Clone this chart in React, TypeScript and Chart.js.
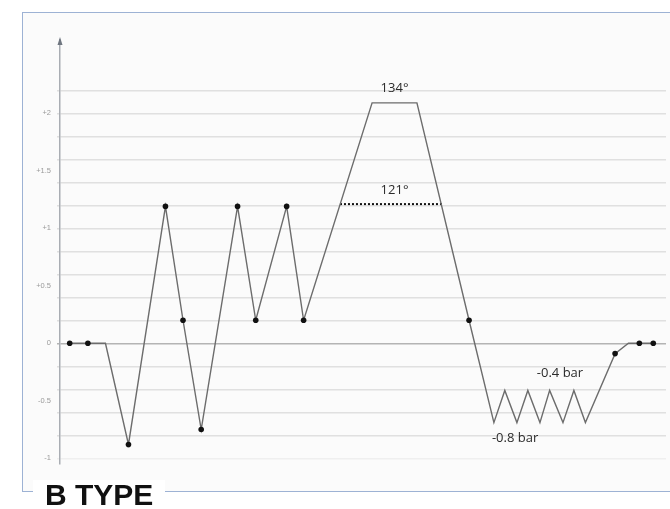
import React, { useEffect, useRef } from 'react';
import { Chart, registerables } from 'chart.js';

Chart.register(...registerables);

// time axis (arbitrary units, 0..100)
const timeSteps = [1.6, 4.6, 7.5, 11.3, 17.4, 20.3, 23.3, 29.3, 32.3, 37.4, 40.2, 51.5, 58.9, 67.5,
  71.6, 73.4, 75.4, 77.2, 79.2, 80.8, 83.0, 84.8, 86.7, 91.6, 93.8, 95.6, 97.9];
// pressure values
const pressureValues = [0, 0, 0, -0.88, 1.19, 0.2, -0.75, 1.19, 0.2, 1.19, 0.2, 2.09, 2.09, 0.2,
  -0.69, -0.41, -0.69, -0.41, -0.69, -0.41, -0.69, -0.41, -0.69, -0.09, 0, 0, 0];
// which points have a dot marker
const markedPoints = [true, true, false, true, true, true, true, true, true, true, true, false, false, true,
  false, false, false, false, false, false, false, false, false, true, false, true, true];

// dotted threshold line (121°)
const thresholdValue = 1.21;
const thresholdStart = 46.2;
const thresholdEnd = 63.1;

// annotation labels
const annotationTexts = ['134°', '121°', '-0.4 bar', '-0.8 bar'];
const annotationX = [55.2, 55.2, 82.5, 75.1];
const annotationY = [2.22, 1.33, -0.26, -0.83];

// axis
const gridValues = [-1, -0.8, -0.6, -0.4, -0.2, 0, 0.2, 0.4, 0.6, 0.8, 1, 1.2, 1.4, 1.6, 1.8, 2, 2.2];
const labelValues = [-1, -0.5, 0, 0.5, 1, 1.5, 2];
const labelTexts = ['-1', '-0.5', '0', '+0.5', '+1', '+1.5', '+2'];

const round1 = (v: number) => Math.round(v * 10) / 10;

const overlayPlugin = {
  id: 'overlay',
  afterDatasetsDraw(chart: any) {
    const { ctx, scales, chartArea } = chart;
    const x = scales.x;
    const y = scales.y;
    ctx.save();
    ctx.font = '13px "Open Sans"';
    ctx.fillStyle = '#2b2b2b';
    ctx.textAlign = 'center';
    ctx.textBaseline = 'middle';
    annotationTexts.forEach((t, i) => {
      ctx.fillText(t, x.getPixelForValue(annotationX[i]), y.getPixelForValue(annotationY[i]));
    });
    // arrow head on y axis
    const ax = chartArea.left;
    const ay = chartArea.top;
    ctx.fillStyle = '#6f7680';
    ctx.beginPath();
    ctx.moveTo(ax, ay - 3);
    ctx.lineTo(ax - 2.5, ay + 5);
    ctx.lineTo(ax + 2.5, ay + 5);
    ctx.closePath();
    ctx.fill();
    ctx.restore();
  },
};

export default function App() {
  const canvasRef = useRef<HTMLCanvasElement | null>(null);

  useEffect(() => {
    if (!canvasRef.current) return;
    const allTicks = Array.from(new Set([...gridValues, ...labelValues])).sort((a, b) => a - b);
    const chart = new Chart(canvasRef.current, {
      type: 'line',
      data: {
        datasets: [
          {
            data: timeSteps.map((t, i) => ({ x: t, y: pressureValues[i] })),
            borderColor: '#6c6c6c',
            borderWidth: 1.4,
            pointRadius: markedPoints.map((m) => (m ? 2.8 : 0)),
            pointBackgroundColor: '#111',
            pointBorderColor: '#111',
            pointBorderWidth: 0,
            tension: 0,
          },
          {
            data: [
              { x: thresholdStart, y: thresholdValue },
              { x: thresholdEnd, y: thresholdValue },
            ],
            borderColor: '#111',
            borderWidth: 2,
            borderDash: [2, 2],
            pointRadius: 0,
          },
        ],
      },
      options: {
        responsive: false,
        animation: false,
        layout: { padding: { top: 40, bottom: 45, left: 0, right: 0 } },
        plugins: { legend: { display: false }, tooltip: { enabled: false } },
        scales: {
          x: { type: 'linear', min: 0, max: 100, display: false },
          y: {
            type: 'linear',
            min: -1.05,
            max: 2.637,
            afterFit: (scale: any) => {
              scale.width = 60;
            },
            afterBuildTicks: (scale: any) => {
              scale.ticks = allTicks.map((v) => ({ value: v }));
            },
            border: { display: true, color: '#a9adb3', width: 1.5 },
            grid: {
              color: (ctx: any) => {
                const v = round1(ctx.tick ? ctx.tick.value : 0);
                if (!gridValues.some((g) => round1(g) === v)) return 'rgba(0,0,0,0)';
                if (v === 0) return '#b4b4b4';
                if (v === -1) return '#efefef';
                return '#e0e0e0';
              },
              lineWidth: 1.5,
              tickLength: 3,
            },
            ticks: {
              autoSkip: false,
              padding: 6,
              color: '#9a9a9a',
              font: { size: 7.5, family: 'Arial, "Liberation Sans", sans-serif' },
              callback: (value: any) => {
                const v = round1(Number(value));
                const idx = labelValues.findIndex((l) => round1(l) === v);
                return idx >= 0 ? labelTexts[idx] : '';
              },
            },
          },
        },
      },
      plugins: [overlayPlugin],
    });
    return () => chart.destroy();
  }, []);

  return (
    <div style={{ position: 'absolute', left: 0, top: 0, width: 670, height: 509, overflow: 'hidden', background: '#fff' }}>
      <div
        style={{
          position: 'absolute',
          left: 22,
          top: 12,
          width: 700,
          height: 480,
          boxSizing: 'border-box',
          border: '1.5px solid #9db2d4',
          background: '#fbfbfb',
        }}
      />
      <canvas
        ref={canvasRef}
        width={670}
        height={509}
        style={{ position: 'absolute', left: 0, top: 0, display: 'block' }}
      />
      <div
        style={{
          position: 'absolute',
          left: 33,
          top: 480,
          height: 30,
          padding: '0 12px',
          background: '#fff',
          fontFamily: '"Liberation Sans", Arial, sans-serif',
          fontWeight: 700,
          fontSize: 30,
          lineHeight: '30px',
          color: '#111',
          whiteSpace: 'nowrap',
        }}
      >
        B TYPE
      </div>
    </div>
  );
}
